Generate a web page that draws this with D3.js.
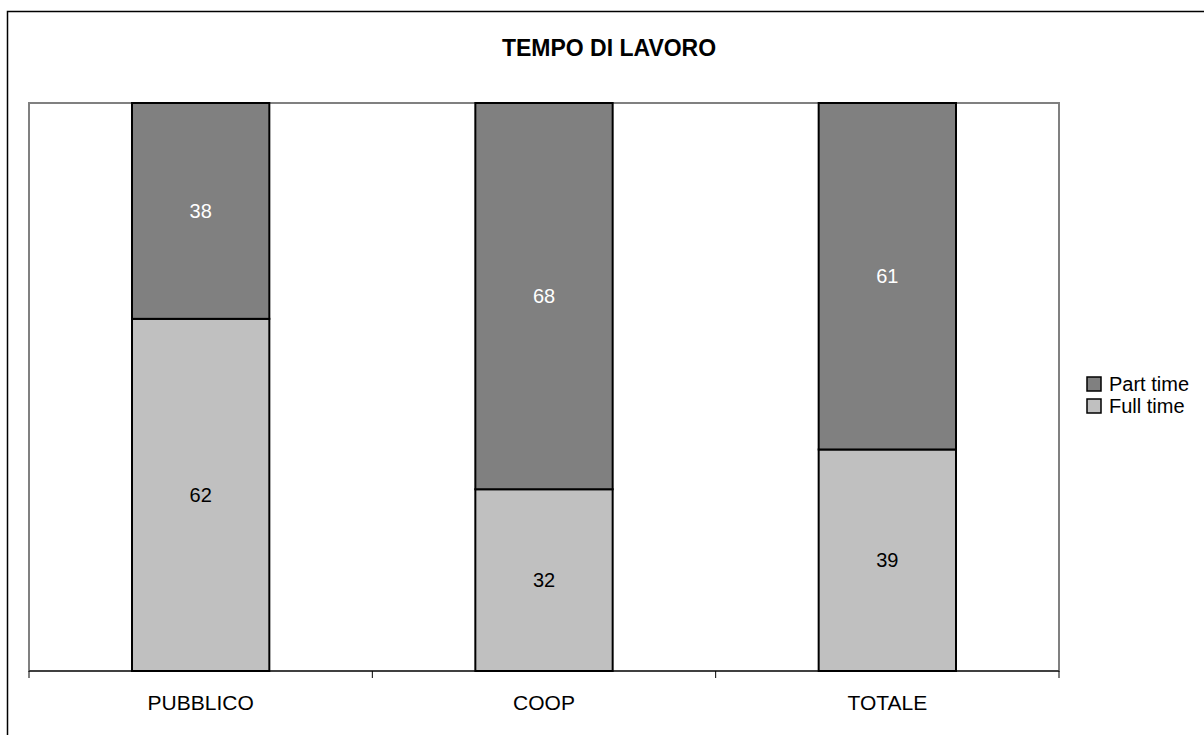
<!DOCTYPE html>
<html>
<head>
<meta charset="utf-8">
<script src="https://cdn.jsdelivr.net/npm/d3@7"></script>
<style>
  html, body { margin: 0; padding: 0; background: #fff; }
  svg { display: block; font-family: "Liberation Sans", Arial, sans-serif; }
</style>
</head>
<body>
<svg id="chart" width="1204" height="735"></svg>
<script>
// Stacked percentage bars: working time by sector
const categories = ["PUBBLICO", "COOP", "TOTALE"];
const fullTime = [62, 32, 39];
const partTime = [38, 68, 61];
const seriesNames = ["Full time", "Part time"];
const seriesColors = ["#C0C0C0", "#808080"];
const labelColors = ["#000000", "#ffffff"];
const chartTitle = "TEMPO DI LAVORO";

const svg = d3.select("#chart");

// outer chart frame (continues past the right and bottom edges)
svg.append("rect")
  .attr("x", 7.5).attr("y", 11.5)
  .attr("width", 1300).attr("height", 800)
  .attr("fill", "none").attr("stroke", "#000").attr("stroke-width", 1.5);

const plot = { left: 29, top: 103, right: 1059, bottom: 671 };

const x = d3.scaleBand()
  .domain(categories)
  .range([plot.left, plot.right])
  .paddingInner(0).paddingOuter(0);

const y = d3.scaleLinear()
  .domain([0, 100])
  .range([plot.bottom, plot.top]);

// plot area border
svg.append("rect")
  .attr("x", plot.left).attr("y", plot.top)
  .attr("width", plot.right - plot.left).attr("height", plot.bottom - plot.top)
  .attr("fill", "#fff").attr("stroke", "#808080").attr("stroke-width", 2);

const rows = categories.map((c, i) => ({ cat: c, "Full time": fullTime[i], "Part time": partTime[i] }));
const stacked = d3.stack().keys(seriesNames)(rows);

const barW = x.bandwidth() * 0.4;

const layers = svg.append("g").selectAll("g")
  .data(stacked)
  .join("g")
  .attr("fill", (d, i) => seriesColors[i]);

layers.selectAll("rect")
  .data(d => d)
  .join("rect")
  .attr("x", d => x(d.data.cat) + (x.bandwidth() - barW) / 2)
  .attr("y", d => y(d[1]))
  .attr("width", barW)
  .attr("height", d => y(d[0]) - y(d[1]))
  .attr("stroke", "#000")
  .attr("stroke-width", 2);

// value labels in the middle of each segment
stacked.forEach((layer, li) => {
  svg.append("g").selectAll("text")
    .data(layer)
    .join("text")
    .attr("x", d => x(d.data.cat) + x.bandwidth() / 2)
    .attr("y", d => (y(d[0]) + y(d[1])) / 2)
    .attr("dy", "0.36em")
    .attr("text-anchor", "middle")
    .attr("font-size", 20)
    .attr("fill", labelColors[li])
    .text(d => d[1] - d[0]);
});

// category axis
const gx = svg.append("g")
  .attr("transform", `translate(0,${plot.bottom})`);
gx.append("line")
  .attr("x1", plot.left).attr("x2", plot.right)
  .attr("stroke", "#000").attr("stroke-width", 1);
const bounds = categories.map(c => x(c)).concat([plot.right]);
gx.selectAll(".tk")
  .data(bounds)
  .join("line")
  .attr("class", "tk")
  .attr("x1", d => d).attr("x2", d => d)
  .attr("y1", 0).attr("y2", 7)
  .attr("stroke", "#000");
gx.selectAll(".lbl")
  .data(categories)
  .join("text")
  .attr("class", "lbl")
  .attr("x", d => x(d) + x.bandwidth() / 2)
  .attr("y", 39)
  .attr("text-anchor", "middle")
  .attr("font-size", 21)
  .attr("fill", "#000")
  .text(d => d);

// title
svg.append("text")
  .attr("x", 609).attr("y", 56)
  .attr("text-anchor", "middle")
  .attr("font-size", 23)
  .attr("font-weight", "bold")
  .text(chartTitle);

// legend (Part time listed first)
const legendItems = [
  { name: seriesNames[1], color: seriesColors[1] },
  { name: seriesNames[0], color: seriesColors[0] }
];
const lg = svg.append("g").attr("transform", "translate(1087,377)");
const li = lg.selectAll("g").data(legendItems).join("g")
  .attr("transform", (d, i) => `translate(0,${i * 22})`);
li.append("rect")
  .attr("x", 0).attr("y", 0).attr("width", 14).attr("height", 14)
  .attr("fill", d => d.color).attr("stroke", "#000").attr("stroke-width", 1.5);
li.append("text")
  .attr("x", 22).attr("y", 7).attr("dy", "0.36em")
  .attr("font-size", 20)
  .text(d => d.name);
</script>
</body>
</html>
